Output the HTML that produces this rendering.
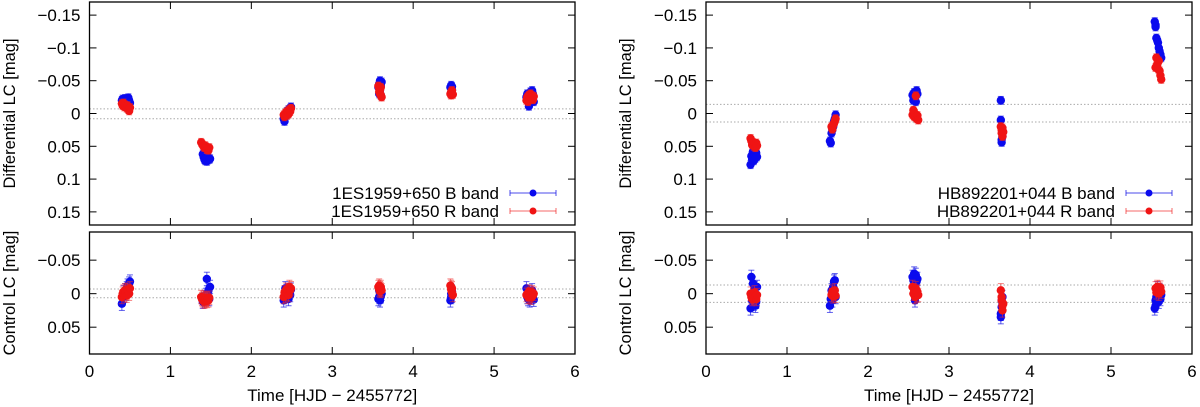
<!DOCTYPE html>
<html><head><meta charset="utf-8"><style>
html,body{margin:0;padding:0;background:#fff;}
svg{display:block;font-family:"Liberation Sans",sans-serif;}
</style></head><body>
<svg id="chart" width="1200" height="407" viewBox="0 0 1200 407" xmlns="http://www.w3.org/2000/svg"></svg>
<script>
// ---- data ----
const xTicks = [0,1,2,3,4,5,6];
const diffTicks = [-0.15,-0.1,-0.05,0,0.05,0.1,0.15];
const diffTickLabels = ["\u22120.15","\u22120.1","\u22120.05","0","0.05","0.1","0.15"];
const ctrlTicks = [-0.05,0,0.05];
const ctrlTickLabels = ["\u22120.05","0","0.05"];

// Left: 1ES1959+650
const L_diffB_t = [0.40,0.41,0.42,0.43,0.44,0.45,0.46,0.47,0.48,0.49,0.50, 1.40,1.41,1.42,1.43,1.44,1.45,1.46,1.47,1.48,1.49, 2.40,2.41,2.42,2.43,2.44,2.45,2.46,2.47,2.48,2.49, 3.57,3.58,3.58,3.59,3.59,3.60,3.60,3.61, 4.46,4.47,4.47,4.48,4.48, 5.40,5.41,5.42,5.43,5.44,5.45,5.46,5.47,5.48,5.49];
const L_diffB_v = [-0.020,-0.022,-0.018,-0.021,-0.023,-0.019,-0.017,-0.022,-0.024,-0.020,-0.016, 0.062,0.066,0.070,0.072,0.068,0.073,0.071,0.067,0.070,0.069, 0.008,0.012,0.005,0.002,-0.003,0.000,-0.006,-0.004,-0.008,-0.010, -0.040,-0.030,-0.045,-0.035,-0.050,-0.028,-0.042,-0.048, -0.040,-0.043,-0.038,-0.041,-0.036, -0.025,-0.030,-0.020,-0.011,-0.028,-0.033,-0.022,-0.035,-0.030,-0.018];
const L_diffR_t = [0.40,0.41,0.42,0.43,0.44,0.45,0.46,0.47,0.48,0.49,0.50, 1.38,1.39,1.40,1.41,1.42,1.43,1.44,1.45,1.46,1.47,1.48, 2.40,2.41,2.42,2.43,2.44,2.45,2.46,2.47,2.48,2.49, 3.57,3.58,3.58,3.59,3.59,3.60,3.60,3.61, 4.46,4.47,4.47,4.48,4.48,4.49, 5.40,5.41,5.42,5.43,5.44,5.45,5.46,5.47,5.48,5.49];
const L_diffR_v = [-0.015,-0.012,-0.016,-0.010,-0.013,-0.011,-0.008,-0.012,-0.006,-0.004,-0.009, 0.044,0.046,0.048,0.050,0.052,0.049,0.051,0.055,0.053,0.056,0.052, 0.002,0.005,0.000,-0.002,0.003,-0.004,0.001,-0.006,-0.003,-0.008, -0.042,-0.038,-0.033,-0.030,-0.036,-0.028,-0.040,-0.025, -0.030,-0.033,-0.028,-0.031,-0.035,-0.029, -0.020,-0.025,-0.018,-0.028,-0.022,-0.030,-0.024,-0.027,-0.021,-0.026];
const L_ctrlB_t = L_diffB_t;
const L_ctrlB_v = [0.015,0.005,-0.002,0.003,-0.005,0.000,-0.008,-0.012,-0.010,-0.015,-0.018, 0.012,0.008,0.010,0.005,0.002,-0.022,0.000,-0.005,0.008,-0.010, 0.010,0.005,-0.008,0.003,0.000,-0.005,0.008,-0.003,0.002,-0.006, 0.008,0.005,-0.005,0.002,0.010,-0.003,0.004,0.000, 0.010,0.005,0.000,0.003,-0.003, -0.008,0.005,0.008,-0.003,0.010,0.000,0.006,-0.005,0.003,0.009];
const L_ctrlR_t = L_diffR_t;
const L_ctrlR_v = [0.005,0.000,-0.003,0.002,-0.005,-0.002,0.003,-0.006,-0.004,0.000,-0.008, 0.005,0.008,0.010,0.006,0.012,0.009,0.007,0.011,0.008,0.010,0.006, 0.005,-0.002,0.003,-0.006,0.000,-0.004,0.002,-0.010,-0.005,-0.008, -0.010,-0.012,-0.006,-0.008,-0.004,-0.010,-0.007,-0.005, -0.012,-0.006,-0.010,-0.002,-0.008,0.002, 0.002,0.000,0.005,-0.003,0.004,0.001,0.006,-0.002,0.003,0.000];

// Right: HB892201+044
const R_diffB_t = [0.55,0.56,0.57,0.58,0.59,0.60,0.61,0.62,0.63, 1.53,1.54,1.55,1.56,1.57,1.58,1.59,1.60, 2.55,2.56,2.57,2.58,2.59,2.60,2.61, 3.64,3.64,3.65,3.65,3.66,3.66, 5.54,5.55,5.55,5.56,5.57,5.58,5.59,5.60,5.61,5.62];
const R_diffB_v = [0.078,0.065,0.070,0.058,0.072,0.062,0.068,0.060,0.066, 0.042,0.045,0.030,0.025,0.020,0.012,0.008,0.002, -0.028,-0.020,-0.032,-0.024,-0.018,-0.035,-0.030, -0.020,0.010,0.040,0.044,0.035,0.030, -0.140,-0.135,-0.132,-0.115,-0.112,-0.108,-0.100,-0.095,-0.090,-0.085];
const R_diffR_t = [0.55,0.56,0.57,0.58,0.59,0.60,0.61,0.62,0.63, 1.55,1.56,1.57,1.58,1.59,1.60, 2.55,2.56,2.57,2.58,2.59,2.60,2.61,2.62, 3.64,3.65,3.65,3.66,3.66,3.67, 5.55,5.56,5.57,5.58,5.59,5.60,5.61,5.62];
const R_diffR_v = [0.038,0.042,0.048,0.044,0.050,0.046,0.052,0.045,0.049, 0.020,0.024,0.018,0.015,0.012,0.008, 0.002,-0.005,0.005,0.000,-0.027,0.008,0.003,0.010, 0.020,0.030,0.025,0.035,0.022,0.028, -0.070,-0.085,-0.075,-0.068,-0.080,-0.065,-0.058,-0.052];
const R_ctrlB_t = R_diffB_t;
const R_ctrlB_v = [0.022,-0.025,0.010,-0.015,0.015,-0.008,0.018,0.012,-0.010, 0.018,0.008,-0.005,0.010,-0.010,-0.018,-0.020,0.005, -0.025,-0.020,-0.030,0.010,-0.028,-0.018,-0.022, 0.030,0.035,0.010,0.020,0.005,0.015, 0.022,0.010,0.018,0.005,-0.008,0.000,0.012,-0.005,0.008,0.002];
const R_ctrlR_t = R_diffR_t;
const R_ctrlR_v = [0.000,0.005,0.008,0.003,0.006,-0.002,0.004,0.008,0.002, 0.002,-0.003,0.004,0.000,-0.005,0.003, -0.010,0.000,-0.005,0.005,-0.008,0.003,-0.003,0.002, -0.005,0.005,0.010,0.018,0.025,0.015, -0.008,-0.002,-0.010,-0.005,0.000,-0.006,-0.009,-0.003];

const NS="http://www.w3.org/2000/svg";
const svg=document.getElementById('chart');
function mk(tag,attrs,parent){const e=document.createElementNS(NS,tag);for(const k in attrs)e.setAttribute(k,attrs[k]);(parent||svg).appendChild(e);return e;}

function panel(p){
  const g=mk('g',{});
  
  
  const xs=t=>p.x0+(t-0)/(6-0)*(p.x1-p.x0);
  const plots=[
    {top:2,bot:225,min:-0.17,max:0.17,ticks:diffTicks,labels:diffTickLabels,dash:p.diffDash,title:"Differential LC [mag]",B:[p.dBt,p.dBv],R:[p.dRt,p.dRv],err:0.006,key:'differential'},
    {top:232,bot:354,min:-0.092,max:0.09,ticks:ctrlTicks,labels:ctrlTickLabels,dash:p.ctrlDash,title:"Control LC [mag]",B:[p.cBt,p.cBv],R:[p.cRt,p.cRv],err:0.01,key:'control'}
  ];
  plots.forEach(pl=>{
    const ys=v=>pl.top+(v-pl.min)/(pl.max-pl.min)*(pl.bot-pl.top);
    const pg=mk('g',{},g);
    
    
    pl.dash.forEach(d=>{
      const l=mk('line',{x1:p.x0,x2:p.x1,y1:ys(d),y2:ys(d),stroke:'#aaa','stroke-width':1,'stroke-dasharray':'1.5,2'},pg);
      
      
    });
    pl.ticks.forEach((t,i)=>{
      const y=ys(t);
      mk('line',{x1:p.x0,x2:p.x0+7,y1:y,y2:y,stroke:'#000','stroke-width':1},pg);
      mk('line',{x1:p.x1,x2:p.x1-7,y1:y,y2:y,stroke:'#000','stroke-width':1},pg);
      const tx=mk('text',{x:p.x0-9,y:y+6,'text-anchor':'end','font-size':17,fill:'#000'},pg);
      tx.textContent=pl.labels[i];
      
      
    });
    xTicks.forEach(t=>{
      const x=xs(t);
      mk('line',{x1:x,x2:x,y1:pl.bot,y2:pl.bot-7,stroke:'#000','stroke-width':1},pg);
      mk('line',{x1:x,x2:x,y1:pl.top,y2:pl.top+7,stroke:'#000','stroke-width':1},pg);
    });
    [['B','#0a0aee','rgba(30,30,230,0.7)'],['R','#f01414','rgba(240,40,40,0.6)']].forEach(s=>{
      const [tt,vv]=pl[s[0]];
      const sg=mk('g',{},pg);
      
      
      for(let i=0;i<tt.length;i++){
        const x=xs(tt[i]),y1=ys(vv[i]-pl.err),y2=ys(vv[i]+pl.err);
        mk('line',{x1:x,x2:x,y1:y1,y2:y2,stroke:s[2],'stroke-width':1},sg);
        mk('line',{x1:x-3,x2:x+3,y1:y1,y2:y1,stroke:s[2],'stroke-width':1},sg);
        mk('line',{x1:x-3,x2:x+3,y1:y2,y2:y2,stroke:s[2],'stroke-width':1},sg);
      }
      for(let i=0;i<tt.length;i++){
        const c=mk('circle',{cx:xs(tt[i]),cy:ys(vv[i]),r:4.2,fill:s[1]},sg);
        
        
      }
    });
    const fr=mk('rect',{x:p.x0,y:pl.top,width:p.x1-p.x0,height:pl.bot-pl.top,fill:'none',stroke:'#000','stroke-width':1.3},pg);
    
    
    const cy=(pl.top+pl.bot)/2;
    const yt=mk('text',{x:p.titleX,y:cy,'text-anchor':'middle','font-size':16.5,transform:`rotate(-90 ${p.titleX} ${cy})`},pg);
    yt.textContent=pl.title;
    
    
  });
  xTicks.forEach(t=>{
    const tx=mk('text',{x:xs(t),y:377,'text-anchor':'middle','font-size':17},g);
    tx.textContent=String(t);
    
    
  });
  const xt=mk('text',{x:(p.x0+p.x1)/2,y:401,'text-anchor':'middle','font-size':17},g);
  xt.textContent="Time [HJD \u2212 2455772]";
  
  
  const lg=mk('g',{},g);
  
  
  [['B band','#0a0aee','rgba(30,30,230,0.8)',193],['R band','#f01414','rgba(240,40,40,0.7)',211]].forEach(e=>{
    const eg=mk('g',{},lg);
    
    
    const tx=mk('text',{x:p.legX,y:e[3]+6,'text-anchor':'end','font-size':17},eg);
    tx.textContent=p.src+' '+e[0];
    const lx0=p.legX+11,lx1=p.legX+57;
    mk('line',{x1:lx0,x2:lx1,y1:e[3],y2:e[3],stroke:e[2],'stroke-width':1},eg);
    mk('line',{x1:lx0,x2:lx0,y1:e[3]-3,y2:e[3]+3,stroke:e[2],'stroke-width':1},eg);
    mk('line',{x1:lx1,x2:lx1,y1:e[3]-3,y2:e[3]+3,stroke:e[2],'stroke-width':1},eg);
    mk('circle',{cx:(lx0+lx1)/2,cy:e[3],r:3.5,fill:e[1]},eg);
  });
}

panel({name:'left-panel-1ES1959',src:'1ES1959+650',x0:89.5,x1:575,titleX:15,legX:499,diffDash:[-0.007,0.008],ctrlDash:[-0.007,0.006],
  dBt:L_diffB_t,dBv:L_diffB_v,dRt:L_diffR_t,dRv:L_diffR_v,cBt:L_ctrlB_t,cBv:L_ctrlB_v,cRt:L_ctrlR_t,cRv:L_ctrlR_v});
panel({name:'right-panel-HB892201',src:'HB892201+044',x0:706,x1:1192,titleX:631,legX:1115,diffDash:[-0.014,0.013],ctrlDash:[-0.013,0.013],
  dBt:R_diffB_t,dBv:R_diffB_v,dRt:R_diffR_t,dRv:R_diffR_v,cBt:R_ctrlB_t,cBv:R_ctrlB_v,cRt:R_ctrlR_t,cRv:R_ctrlR_v});
</script>
</body></html>
